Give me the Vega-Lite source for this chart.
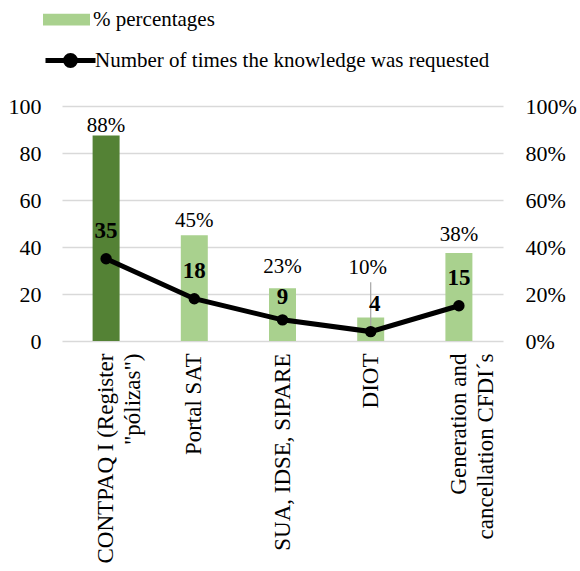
{
  "$schema": "https://vega.github.io/schema/vega-lite/v6.json",
  "width": 441,
  "height": 235,
  "autosize": {"type": "none"},
  "padding": {"left": 62, "top": 106, "right": 77, "bottom": 230},
  "background": "white",
  "config": {
    "font": "Liberation Serif",
    "view": {"stroke": null},
    "text": {"font": "Liberation Serif"},
    "axis": {"labelFont": "Liberation Serif", "labelFontSize": 22, "labelColor": "#000000", "title": null, "domain": false, "ticks": false},
    "legend": {"labelFont": "Liberation Serif", "labelFontSize": 21, "labelColor": "#000000", "padding": 0}
  },
  "data": {
    "values": [
      {"cat": "CONTPAQ I (Register \"pólizas\")", "pct": 87.5, "pctLabel": "88%", "count": 35},
      {"cat": "Portal SAT", "pct": 45, "pctLabel": "45%", "count": 18},
      {"cat": "SUA, IDSE, SIPARE", "pct": 22.5, "pctLabel": "23%", "count": 9},
      {"cat": "DIOT", "pct": 10, "pctLabel": "10%", "count": 4},
      {"cat": "Generation and cancellation CFDI´s", "pct": 37.5, "pctLabel": "38%", "count": 15}
    ]
  },
  "encoding": {
    "x": {
      "field": "cat", "type": "nominal", "sort": null,
      "scale": {"paddingInner": 0.694, "paddingOuter": 0.347},
      "axis": {
        "labelFont": "Liberation Serif", "labelFontSize": 23, "labelColor": "#000000",
        "labelAngle": -90, "labelAlign": "right", "labelBaseline": "middle",
        "labelPadding": 12, "labelLineHeight": 27, "labelLimit": 300,
        "labelExpr": "indexof(datum.value, 'CONTPAQ') == 0 ? ['CONTPAQ I (Register', '\"pólizas\")'] : indexof(datum.value, 'Generation') == 0 ? ['Generation and', 'cancellation CFDI´s'] : datum.value"
      }
    }
  },
  "layer": [
    {
      "encoding": {
        "y": {
          "field": "pct", "type": "quantitative",
          "scale": {"domain": [0, 100]},
          "axis": {"orient": "right", "values": [0, 20, 40, 60, 80, 100], "labelExpr": "datum.value + '%'", "grid": false, "labelPadding": 22, "labelAlign": "left", "labelFont": "Liberation Serif", "labelFontSize": 22, "labelColor": "#000000"}
        }
      },
      "layer": [
        {
          "mark": {"type": "bar"},
          "encoding": {
            "fill": {
              "condition": {"test": "indexof(datum.cat, 'CONTPAQ') == 0", "value": "#548235"},
              "datum": "% percentages", "type": "nominal",
              "scale": {"range": ["#A9D18E"]},
              "legend": {"title": null, "orient": "none", "legendX": -19, "legendY": -110, "symbolType": "M-1,-0.25H1V0.25H-1Z", "symbolSize": 2209, "symbolStrokeWidth": 0, "labelOffset": 3, "labelFont": "Liberation Serif", "labelFontSize": 21, "labelColor": "#000000"}
            }
          }
        },
        {
          "transform": [{"filter": "indexof(datum.cat, 'CONTPAQ') == 0"}],
          "mark": {"type": "text", "dy": -9, "fontSize": 21, "font": "Liberation Serif", "baseline": "middle", "color": "#000000"},
          "encoding": {"text": {"field": "pctLabel"}}
        },
        {
          "transform": [{"filter": "datum.cat == 'Portal SAT'"}],
          "mark": {"type": "text", "dy": -14, "fontSize": 21, "font": "Liberation Serif", "baseline": "middle", "color": "#000000"},
          "encoding": {"text": {"field": "pctLabel"}}
        },
        {
          "transform": [{"filter": "datum.cat == 'SUA, IDSE, SIPARE'"}],
          "mark": {"type": "text", "dy": -21, "fontSize": 21, "font": "Liberation Serif", "baseline": "middle", "color": "#000000"},
          "encoding": {"text": {"field": "pctLabel"}}
        },
        {
          "transform": [{"filter": "indexof(datum.cat, 'Generation') == 0"}],
          "mark": {"type": "text", "dy": -18, "fontSize": 21, "font": "Liberation Serif", "baseline": "middle", "color": "#000000"},
          "encoding": {"text": {"field": "pctLabel"}}
        },
        {
          "transform": [{"filter": "datum.cat == 'DIOT'"}],
          "mark": {"type": "text", "dy": -50, "dx": -3, "fontSize": 21, "font": "Liberation Serif", "baseline": "middle", "color": "#000000"},
          "encoding": {"text": {"field": "pctLabel"}}
        },
        {
          "transform": [{"filter": "datum.cat == 'DIOT'"}],
          "mark": {"type": "rule", "color": "#a6a6a6", "strokeWidth": 1.2, "xOffset": 0},
          "encoding": {"y": {"datum": 25}, "y2": {"datum": 3.5}}
        }
      ]
    },
    {
      "encoding": {
        "y": {
          "field": "count", "type": "quantitative",
          "scale": {"domain": [0, 100]},
          "axis": {"orient": "left", "values": [0, 20, 40, 60, 80, 100], "grid": true, "gridColor": "#d9d9d9", "gridWidth": 1.5, "labelPadding": 21, "labelFont": "Liberation Serif", "labelFontSize": 22, "labelColor": "#000000"}
        }
      },
      "layer": [
        {
          "mark": {"type": "line", "strokeWidth": 5},
          "encoding": {
            "stroke": {
              "datum": "Number of times the knowledge was requested", "type": "nominal",
              "scale": {"range": ["#000000"]},
              "legend": {"title": null, "orient": "none", "legendX": -19, "legendY": -73, "symbolType": "M-1,0H1M-0.2,0A0.2,0.2,0,1,0,0.2,0A0.2,0.2,0,1,0,-0.2,0Z", "symbolSize": 2500, "symbolStrokeWidth": 5, "symbolFillColor": "#000000", "labelOffset": -3, "labelLimit": 600, "labelFont": "Liberation Serif", "labelFontSize": 21, "labelColor": "#000000"}
            }
          }
        },
        {
          "mark": {"type": "point", "filled": true, "size": 130, "color": "#000000", "opacity": 1}
        },
        {
          "transform": [{"filter": "datum.cat != 'SUA, IDSE, SIPARE' && datum.cat != 'DIOT'"}],
          "mark": {"type": "text", "dy": -28, "fontSize": 23, "font": "Liberation Serif", "fontWeight": "bold", "baseline": "middle", "color": "#000000"},
          "encoding": {"text": {"field": "count"}}
        },
        {
          "transform": [{"filter": "datum.cat == 'DIOT'"}],
          "mark": {"type": "text", "dy": -28, "dx": 4, "fontSize": 23, "font": "Liberation Serif", "fontWeight": "bold", "baseline": "middle", "color": "#000000"},
          "encoding": {"text": {"field": "count"}}
        },
        {
          "transform": [{"filter": "datum.cat == 'SUA, IDSE, SIPARE'"}],
          "mark": {"type": "text", "dy": -23, "fontSize": 23, "font": "Liberation Serif", "fontWeight": "bold", "baseline": "middle", "color": "#000000"},
          "encoding": {"text": {"field": "count"}}
        }
      ]
    }
  ],
  "resolve": {"scale": {"y": "independent", "fill": "independent", "stroke": "independent"}}
}
